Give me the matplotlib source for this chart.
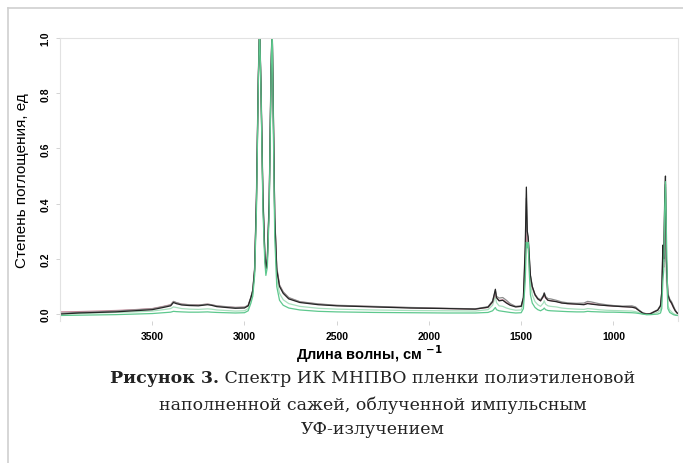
import numpy as np
import matplotlib
matplotlib.use("Agg")
import matplotlib.pyplot as plt
from matplotlib.lines import Line2D

# wavenumber grid (cm-1)
wn = [4000, 3900, 3800, 3700, 3600, 3500, 3440, 3400, 3385, 3370, 3340, 3300, 3250, 3200, 3180,
      3150, 3100, 3050, 3000, 2980, 2965, 2955, 2945, 2935, 2925, 2918, 2910, 2900, 2890, 2884,
      2876, 2866, 2856, 2850, 2844, 2836, 2825, 2810, 2790, 2760, 2700, 2600, 2500, 2300, 2100,
      1900, 1750, 1680, 1655, 1645, 1640, 1634, 1620, 1600, 1580, 1560, 1530, 1500, 1488, 1478,
      1472, 1467, 1462, 1457, 1450, 1440, 1425, 1410, 1395, 1380, 1375, 1368, 1355, 1340, 1310,
      1280, 1250, 1200, 1160, 1140, 1120, 1080, 1040, 1000, 950, 900, 880, 860, 840, 820,
      800, 780, 760, 745, 738, 732, 727, 722, 718, 713, 705, 695, 685, 675, 665,
      655, 650]

black = [0.000, 0.004, 0.006, 0.008, 0.012, 0.016, 0.024, 0.030, 0.042, 0.038, 0.033, 0.031, 0.030, 0.034, 0.032,
         0.027, 0.024, 0.021, 0.022, 0.030, 0.060, 0.085, 0.16, 0.42, 0.85, 1.05, 0.80, 0.42, 0.22, 0.165,
         0.20, 0.40, 0.88, 1.05, 0.75, 0.35, 0.16, 0.10, 0.075, 0.055, 0.042, 0.034, 0.030, 0.026, 0.022,
         0.020, 0.018, 0.025, 0.045, 0.075, 0.090, 0.060, 0.048, 0.050, 0.040, 0.032, 0.026, 0.028, 0.06, 0.25,
         0.46, 0.30, 0.28, 0.22, 0.14, 0.10, 0.07, 0.055, 0.048, 0.065, 0.075, 0.060, 0.050, 0.048, 0.045,
         0.040, 0.038, 0.036, 0.034, 0.038, 0.036, 0.033, 0.031, 0.029, 0.027, 0.025, 0.022, 0.012, 0.003, 0.000,
         0.001, 0.008, 0.014, 0.030, 0.080, 0.25, 0.20, 0.42, 0.50, 0.20, 0.070, 0.050, 0.040, 0.025, 0.012,
         0.004, 0.002]

gray = [0.003, 0.006, 0.008, 0.011, 0.015, 0.019, 0.027, 0.033, 0.046, 0.042, 0.036, 0.034, 0.033, 0.036, 0.034,
        0.030, 0.027, 0.024, 0.025, 0.032, 0.062, 0.088, 0.17, 0.44, 0.87, 1.05, 0.82, 0.44, 0.23, 0.17,
        0.21, 0.42, 0.90, 1.05, 0.77, 0.36, 0.17, 0.105, 0.080, 0.060, 0.045, 0.037, 0.032, 0.028, 0.024,
        0.021, 0.019, 0.027, 0.048, 0.072, 0.085, 0.065, 0.058, 0.060, 0.050, 0.038, 0.028, 0.030, 0.06, 0.22,
        0.42, 0.29, 0.27, 0.21, 0.14, 0.10, 0.072, 0.058, 0.052, 0.068, 0.078, 0.064, 0.056, 0.055, 0.050,
        0.044, 0.041, 0.039, 0.040, 0.046, 0.044, 0.038, 0.034, 0.031, 0.029, 0.030, 0.026, 0.014, 0.004, 0.001,
        0.002, 0.009, 0.016, 0.032, 0.078, 0.23, 0.19, 0.40, 0.47, 0.19, 0.075, 0.055, 0.045, 0.030, 0.015,
        0.005, 0.003]

pink = [0.008, 0.009, 0.011, 0.013, 0.016, 0.020, 0.028, 0.034, 0.045, 0.041, 0.036, 0.034, 0.033, 0.036, 0.034,
        0.029, 0.026, 0.024, 0.025, 0.031, 0.060, 0.085, 0.16, 0.41, 0.84, 1.05, 0.79, 0.41, 0.22, 0.165,
        0.20, 0.40, 0.86, 1.05, 0.74, 0.35, 0.165, 0.105, 0.080, 0.058, 0.044, 0.036, 0.031, 0.027, 0.023,
        0.020, 0.018, 0.024, 0.042, 0.065, 0.075, 0.058, 0.050, 0.052, 0.043, 0.034, 0.027, 0.028, 0.05, 0.18,
        0.33, 0.25, 0.24, 0.19, 0.13, 0.095, 0.068, 0.055, 0.048, 0.062, 0.070, 0.058, 0.050, 0.049, 0.046,
        0.041, 0.038, 0.036, 0.035, 0.040, 0.038, 0.034, 0.031, 0.029, 0.027, 0.026, 0.022, 0.012, 0.004, 0.001,
        0.002, 0.008, 0.014, 0.028, 0.070, 0.20, 0.17, 0.33, 0.38, 0.16, 0.065, 0.048, 0.038, 0.024, 0.012,
        0.004, 0.002]

lgreen = [0.000, 0.002, 0.004, 0.006, 0.008, 0.011, 0.016, 0.020, 0.026, 0.024, 0.020, 0.018, 0.017, 0.019, 0.018,
          0.015, 0.013, 0.011, 0.012, 0.020, 0.050, 0.075, 0.15, 0.40, 0.84, 1.05, 0.80, 0.40, 0.21, 0.155,
          0.19, 0.39, 0.87, 1.05, 0.72, 0.32, 0.13, 0.075, 0.052, 0.038, 0.028, 0.021, 0.018, 0.015, 0.013,
          0.012, 0.011, 0.016, 0.032, 0.055, 0.065, 0.042, 0.030, 0.028, 0.022, 0.018, 0.014, 0.015, 0.04, 0.18,
          0.34, 0.27, 0.27, 0.19, 0.11, 0.070, 0.045, 0.034, 0.028, 0.040, 0.048, 0.036, 0.030, 0.028, 0.026,
          0.022, 0.020, 0.018, 0.017, 0.020, 0.019, 0.016, 0.014, 0.013, 0.012, 0.011, 0.009, 0.005, 0.000, -0.002,
          -0.001, 0.003, 0.006, 0.015, 0.050, 0.20, 0.18, 0.40, 0.46, 0.12, 0.030, 0.015, 0.008, 0.002, -0.002,
          -0.004, -0.004]

teal = [-0.005, -0.004, -0.003, -0.002, 0.000, 0.002, 0.005, 0.007, 0.010, 0.009, 0.008, 0.007, 0.007, 0.008, 0.007,
        0.006, 0.005, 0.004, 0.005, 0.012, 0.040, 0.065, 0.14, 0.38, 0.83, 1.05, 0.79, 0.38, 0.19, 0.14,
        0.17, 0.37, 0.86, 1.05, 0.70, 0.28, 0.10, 0.050, 0.032, 0.022, 0.015, 0.010, 0.008, 0.006, 0.005,
        0.004, 0.004, 0.006, 0.012, 0.020, 0.024, 0.016, 0.012, 0.010, 0.008, 0.006, 0.004, 0.005, 0.02, 0.12,
        0.26, 0.24, 0.26, 0.16, 0.07, 0.040, 0.024, 0.016, 0.012, 0.018, 0.022, 0.016, 0.013, 0.012, 0.011,
        0.010, 0.009, 0.008, 0.008, 0.010, 0.009, 0.008, 0.007, 0.007, 0.006, 0.005, 0.004, 0.002, 0.000, -0.002,
        -0.002, -0.001, 0.000, 0.004, 0.020, 0.12, 0.16, 0.38, 0.48, 0.30, 0.020, 0.006, 0.002, -0.002, -0.004,
        -0.005, -0.005]

x_ticks = [3500, 3000, 2500, 2000, 1500, 1000]
y_ticks = [0.0, 0.2, 0.4, 0.6, 0.8, 1.0]

fig = plt.figure(figsize=(6.83, 4.64), dpi=100)
ax = fig.add_axes([60 / 683, 1 - 322 / 464, 618 / 683, 283 / 464])

series = [(lgreen, '#a8dfbd'), (pink, '#c98a9c'), (gray, '#8c8c8c'), (black, '#262626'), (teal, '#5ec88e')]
for vals, col in series:
    ax.plot(wn, vals, color=col, lw=0.9)

ax.set_xlim(4000, 650)
ax.set_ylim(-0.025, 1.0)
ax.set_xticks(x_ticks)
ax.set_yticks(y_ticks)
ax.set_xticklabels([str(t) for t in x_ticks], fontsize=7.5, fontweight='bold', family='Liberation Sans')
ax.set_yticklabels(['%.1f' % t for t in y_ticks], fontsize=7.5, fontweight='bold', family='Liberation Sans',
                   rotation=90, va='center')
ax.tick_params(axis='both', length=3, width=0.6, color='#cccccc', pad=4)
for s in ax.spines.values():
    s.set_color('#e2e2e2')
    s.set_linewidth(0.8)
ax.spines['bottom'].set_visible(False)

ax.set_ylabel('Степень поглощения, ед', fontsize=11, family='Liberation Sans', labelpad=8)
ax.set_xlabel('Длина волны, см $^{\\mathbf{-1}}$', fontsize=10.5, fontweight='bold',
              family='Liberation Sans', labelpad=1)

# outer frame of the figure block
fig.add_artist(Line2D([8 / 683, 1.0], [1 - 9 / 464, 1 - 9 / 464], color='#cfcfcf', lw=1.2))
fig.add_artist(Line2D([8 / 683, 8 / 683], [0.0, 1 - 9 / 464], color='#cfcfcf', lw=1.2))

# caption: bold "Рисунок 3." followed by regular text on first line
cap_font = 'DejaVu Serif'
cap_size = 12.5
cap_col = '#222222'
renderer = fig.canvas.get_renderer()
cx = 373 / 683
t_bold = fig.text(0, 1 - 379 / 464, 'Рисунок 3.', fontsize=cap_size, fontweight='bold',
                  family=cap_font, va='center', ha='left', color=cap_col)
t_rest = fig.text(0, 1 - 379 / 464, ' Спектр ИК МНПВО пленки полиэтиленовой', fontsize=cap_size,
                  family=cap_font, va='center', ha='left', color=cap_col)
w_b = t_bold.get_window_extent(renderer).width / fig.bbox.width
w_r = t_rest.get_window_extent(renderer).width / fig.bbox.width
x0 = cx - (w_b + w_r) / 2
t_bold.set_x(x0)
t_rest.set_x(x0 + w_b)
fig.text(cx, 1 - 405 / 464, 'наполненной сажей, облученной импульсным', fontsize=cap_size,
         family=cap_font, va='center', ha='center', color=cap_col)
fig.text(cx, 1 - 430 / 464, 'УФ-излучением', fontsize=cap_size,
         family=cap_font, va='center', ha='center', color=cap_col)

fig.savefig('out.png', dpi=100)
